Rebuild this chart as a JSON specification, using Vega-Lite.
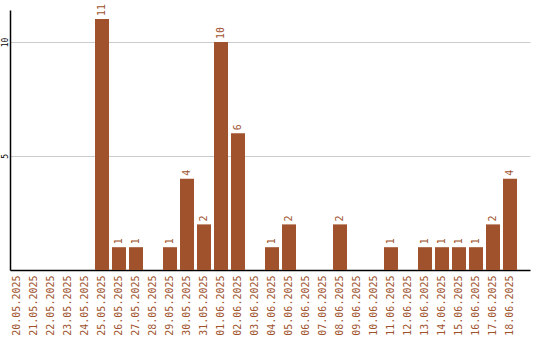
{
  "$schema": "https://vega.github.io/schema/vega-lite/v6.json",
  "width": 520,
  "height": 260,
  "autosize": "none",
  "padding": {"left": 10, "top": 10, "right": 10, "bottom": 70},
  "background": "white",
  "config": {
    "view": {"stroke": null},
    "font": "DejaVu Sans Mono"
  },
  "data": {
    "values": [
      {"date": "20.05.2025", "count": 0},
      {"date": "21.05.2025", "count": 0},
      {"date": "22.05.2025", "count": 0},
      {"date": "23.05.2025", "count": 0},
      {"date": "24.05.2025", "count": 0},
      {"date": "25.05.2025", "count": 11},
      {"date": "26.05.2025", "count": 1},
      {"date": "27.05.2025", "count": 1},
      {"date": "28.05.2025", "count": 0},
      {"date": "29.05.2025", "count": 1},
      {"date": "30.05.2025", "count": 4},
      {"date": "31.05.2025", "count": 2},
      {"date": "01.06.2025", "count": 10},
      {"date": "02.06.2025", "count": 6},
      {"date": "03.06.2025", "count": 0},
      {"date": "04.06.2025", "count": 1},
      {"date": "05.06.2025", "count": 2},
      {"date": "06.06.2025", "count": 0},
      {"date": "07.06.2025", "count": 0},
      {"date": "08.06.2025", "count": 2},
      {"date": "09.06.2025", "count": 0},
      {"date": "10.06.2025", "count": 0},
      {"date": "11.06.2025", "count": 1},
      {"date": "12.06.2025", "count": 0},
      {"date": "13.06.2025", "count": 1},
      {"date": "14.06.2025", "count": 1},
      {"date": "15.06.2025", "count": 1},
      {"date": "16.06.2025", "count": 1},
      {"date": "17.06.2025", "count": 2},
      {"date": "18.06.2025", "count": 4}
    ]
  },
  "encoding": {
    "x": {
      "field": "date",
      "type": "ordinal",
      "sort": null,
      "scale": {"paddingInner": 0.176, "paddingOuter": 0.382, "align": 0},
      "axis": {
        "title": null,
        "labelAngle": -90,
        "labelAlign": "right",
        "labelBaseline": "middle",
        "labelFont": "DejaVu Sans Mono",
        "labelFontSize": 10,
        "labelColor": "#A0522D",
        "labelPadding": 5,
        "ticks": false,
        "domainColor": "black",
        "domainWidth": 1.5,
        "labelOverlap": false
      }
    },
    "y": {
      "field": "count",
      "type": "quantitative",
      "scale": {"domain": [0, 11.4], "nice": false},
      "axis": {
        "title": null,
        "values": [5, 10],
        "labelAngle": -90,
        "labelAlign": "center",
        "labelBaseline": "alphabetic",
        "labelFont": "DejaVu Sans Mono",
        "labelFontSize": 8,
        "labelColor": "black",
        "labelPadding": 3,
        "ticks": false,
        "domainColor": "black",
        "domainWidth": 1.5,
        "gridColor": "#cccccc",
        "gridWidth": 1
      }
    }
  },
  "layer": [
    {
      "mark": {"type": "bar", "color": "#A0522D"}
    },
    {
      "transform": [{"filter": "datum.count > 0"}],
      "mark": {
        "type": "text",
        "angle": -90,
        "align": "left",
        "baseline": "middle",
        "dx": 3,
        "font": "DejaVu Sans Mono",
        "fontSize": 10,
        "color": "#A0522D"
      },
      "encoding": {"text": {"field": "count", "type": "quantitative"}}
    }
  ]
}
